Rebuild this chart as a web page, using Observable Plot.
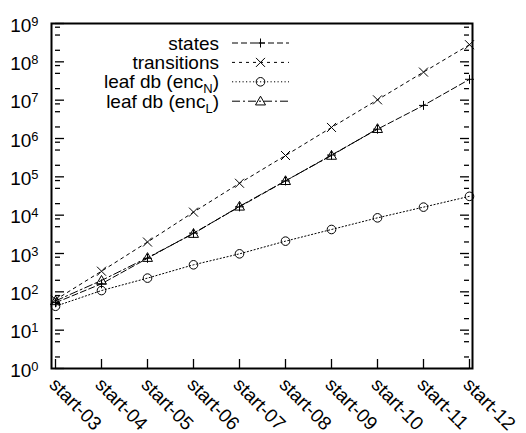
<!DOCTYPE html>
<html><head><meta charset="utf-8">
<script src="https://cdn.jsdelivr.net/npm/d3@7"></script>
<script src="https://cdn.jsdelivr.net/npm/@observablehq/plot@0.6"></script>
<style>
html,body{margin:0;padding:0;background:#fff;}
#chart svg{display:block;font-family:"Liberation Sans",Arial,Helvetica,sans-serif;background:#fff;}
</style></head><body><div id="chart"></div>
<script>
// ---- data ----
const categories = ["start-03","start-04","start-05","start-06","start-07","start-08","start-09","start-10","start-11","start-12"];
const statesValues = [52, 162, 750, 3400, 16500, 78000, 370000, 1750000, 7300000, 35000000];
const transitionsValues = [62, 345, 1990, 12000, 68000, 360000, 1940000, 10200000, 54000000, 280000000];
const leafNValues = [42, 108, 228, 507, 980, 2100, 4230, 8520, 16200, 31000];
const leafLValues = [58, 198, 780, 3300, 17000, 79000, 360000, 1800000];
const seriesLabels = ["states", "transitions", "leaf db (enc_N)", "leaf db (enc_L)"];
const yMajorTicks = [1, 10, 100, 1e3, 1e4, 1e5, 1e6, 1e7, 1e8, 1e9];
const yMinorMultipliers = [2, 5, 8];

// ---- symbols ----
const symPlus = {draw(c, s){const r=Math.sqrt(s/Math.PI); c.moveTo(-r,0);c.lineTo(r,0);c.moveTo(0,-r);c.lineTo(0,r);}};
const symTimes = {draw(c, s){const r=Math.sqrt(s/Math.PI); c.moveTo(-r,-r);c.lineTo(r,r);c.moveTo(-r,r);c.lineTo(r,-r);}};
const symCircle = {draw(c, s){const r=Math.sqrt(s/Math.PI); c.moveTo(r,0);c.arc(0,0,r,0,2*Math.PI);c.closePath();}};
const symTri = {draw(c, s){const r=Math.sqrt(s/Math.PI); c.moveTo(0,-r);c.lineTo(r,r*0.75);c.lineTo(-r,r*0.75);c.closePath();}};

const seriesStyles = [
  {values: statesValues, dash: "6,3", sym: symPlus, r: 4.5},
  {values: transitionsValues, dash: "3,4", sym: symTimes, r: 4.5},
  {values: leafNValues, dash: "1.2,2.3", sym: symCircle, r: 4.3},
  {values: leafLValues, dash: "8,3,2,3", sym: symTri, r: 5}
];
const seriesRows = seriesStyles.map((s, k) => s.values.map((v, i) => ({series: seriesLabels[k], cat: categories[i], value: v})));

const minorTicks = [];
yMajorTicks.slice(0, -1).forEach(t => yMinorMultipliers.forEach(m => minorTicks.push(t * m)));
const firstCat = categories[0], lastCat = categories[categories.length - 1];

const marks = [];
seriesStyles.forEach((s, k) => {
  marks.push(Plot.line(seriesRows[k], {x: "cat", y: "value", stroke: "black", strokeWidth: 1, strokeDasharray: s.dash}));
});
seriesStyles.forEach((s, k) => {
  marks.push(Plot.dot(seriesRows[k], {x: "cat", y: "value", symbol: s.sym, r: s.r, stroke: "black", fill: "none", strokeWidth: 1}));
});
// inward ticks
marks.push(Plot.ruleY(yMajorTicks, {y: d => d, x1: () => firstCat, x2: () => firstCat, insetRight: -9, stroke: "black", strokeWidth: 1.3}));
marks.push(Plot.ruleY(minorTicks, {y: d => d, x1: () => firstCat, x2: () => firstCat, insetRight: -5, stroke: "black", strokeWidth: 1.3}));
marks.push(Plot.ruleY(yMajorTicks, {y: d => d, x1: () => lastCat, x2: () => lastCat, insetLeft: -9, stroke: "black", strokeWidth: 1.3}));
marks.push(Plot.ruleY(minorTicks, {y: d => d, x1: () => lastCat, x2: () => lastCat, insetLeft: -5, stroke: "black", strokeWidth: 1.3}));
marks.push(Plot.ruleX(categories, {x: d => d, y1: () => yMajorTicks[0], y2: () => yMajorTicks[0], insetTop: -9, stroke: "black", strokeWidth: 1.3}));
marks.push(Plot.frame({stroke: "black", strokeWidth: 2}));
marks.push(Plot.axisY(yMajorTicks, {label: null, tickSize: 0, tickPadding: 13, fontSize: 19, dy: 2, tickFormat: d => "10^" + Math.round(Math.log10(d))}));
marks.push(Plot.axisX({label: null, tickRotate: 45, tickSize: 0, tickPadding: 13, dx: -3, fontSize: 19}));

const chart = Plot.plot({
  width: 526, height: 433,
  marginLeft: 51, marginRight: 54, marginTop: 23, marginBottom: 65,
  style: {fontFamily: '"Liberation Sans", Arial, Helvetica, sans-serif', color: "black", background: "white"},
  x: {type: "point", domain: categories, padding: 0, axis: null, label: null},
  y: {type: "log", domain: [1, 1e9], axis: null, label: null},
  marks
});
document.getElementById("chart").appendChild(chart);

const svg = d3.select(chart);
// superscripts on y labels
svg.selectAll('g[aria-label="y-axis tick label"] text').each(function() {
  const t = this.textContent;
  if (!t.includes("^")) return;
  const [base, exp] = t.split("^");
  const el = d3.select(this);
  el.text(null);
  el.append("tspan").text(base);
  el.append("tspan").attr("dy", "-0.45em").attr("font-size", "0.68em").text(exp);
});
svg.selectAll('g[aria-label="x-axis tick label"] text').attr("fill", "black");
svg.selectAll('g[aria-label="y-axis tick label"] text').attr("fill", "black");

// legend (inside plot, top-left)
const lg = svg.append("g").attr("font-size", 19).attr("fill", "black");
seriesStyles.forEach((s, k) => {
  const y = 43 + k * 19.4;
  const label = seriesLabels[k];
  const tx = lg.append("text").attr("x", 219).attr("y", y).attr("dy", "0.35em").attr("text-anchor", "end");
  if (label.includes("_")) {
    const m = label.match(/^(.*)_(\w)(.*)$/);
    tx.append("tspan").text(m[1]);
    tx.append("tspan").attr("font-size", 13).attr("dy", 5).text(m[2]);
    tx.append("tspan").attr("dy", -5).text(m[3]);
  } else tx.text(label);
  lg.append("line").attr("x1", 232).attr("x2", 289).attr("y1", y).attr("y2", y)
    .attr("stroke", "black").attr("stroke-width", 1).attr("stroke-dasharray", s.dash);
  const p = d3.path(); s.sym.draw(p, Math.PI * s.r * s.r);
  lg.append("path").attr("d", p.toString()).attr("transform", `translate(260.5,${y})`)
    .attr("fill", "none").attr("stroke", "black").attr("stroke-width", 1);
});
</script></body></html>
